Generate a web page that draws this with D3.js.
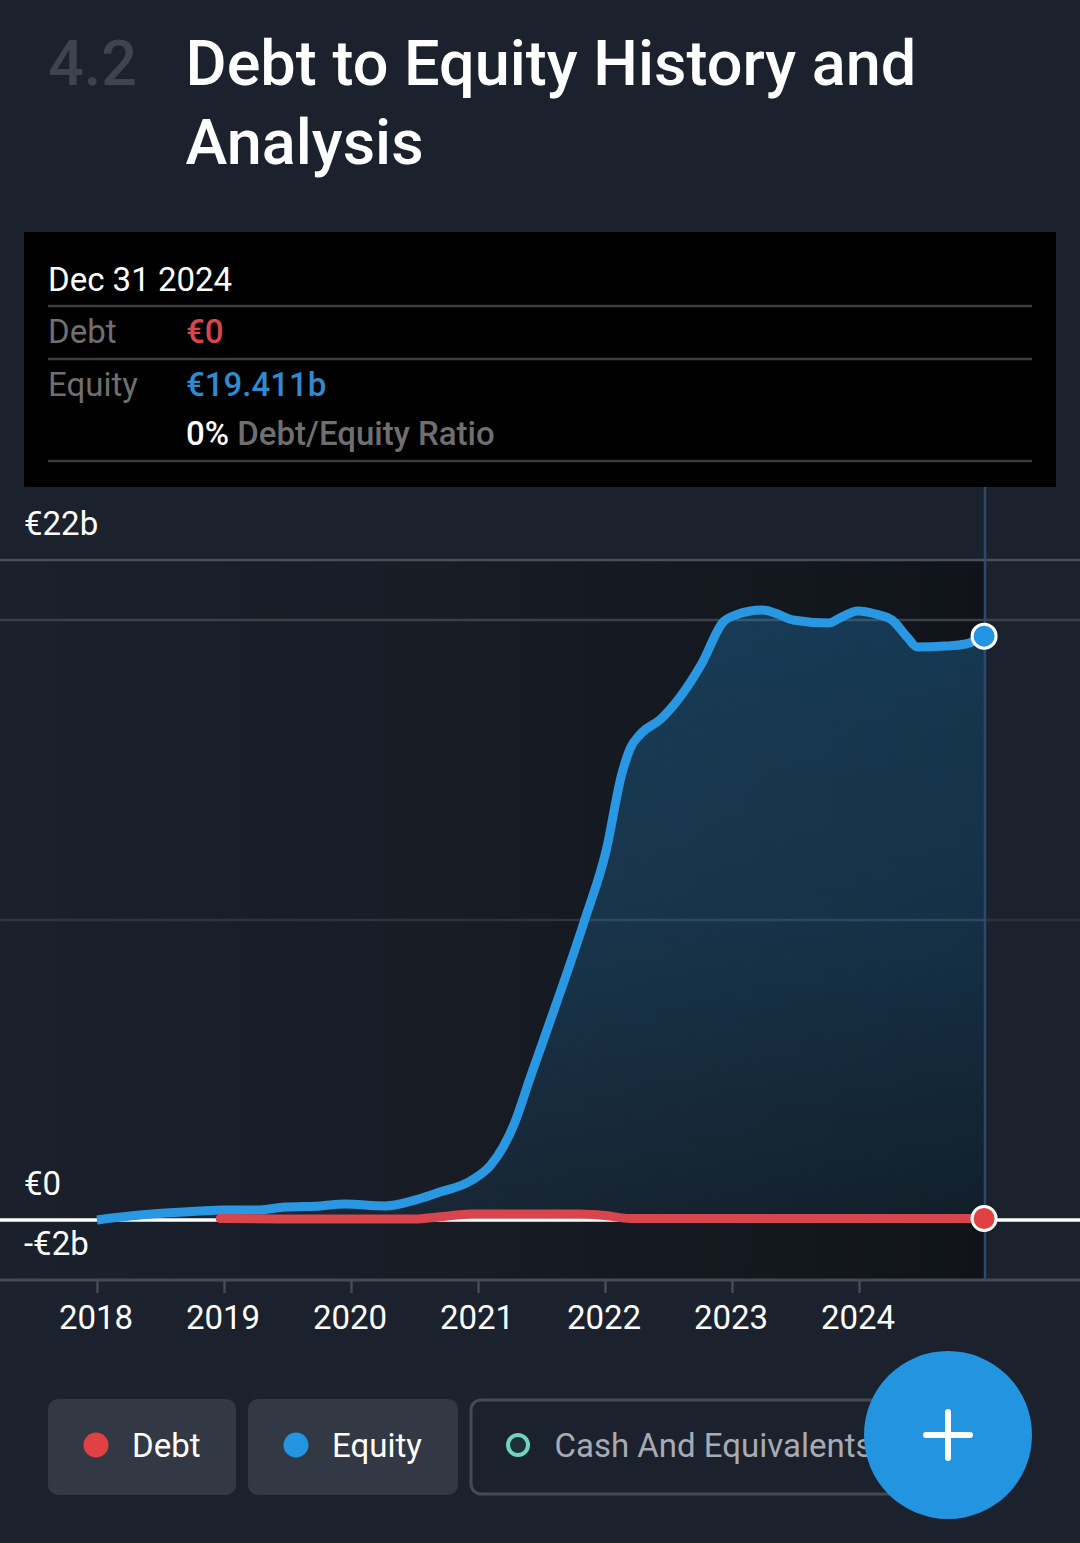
<!DOCTYPE html>
<html><head><meta charset="utf-8">
<script src="https://cdn.jsdelivr.net/npm/d3@7"></script>
<style>html,body{margin:0;padding:0;background:#1b222d}svg{display:block}text{font-family:Roboto,sans-serif}</style>
</head><body><svg id="c" width="1080" height="1543"></svg>
<script>
const equityYears=[2018,2018.26,2018.54,2018.81,2019,2019.25,2019.48,2019.76,2019.95,2020.27,2020.51,2020.7,2020.94,2021.1,2021.2,2021.28,2021.41,2021.53,2021.84,2022.01,2022.13,2022.2,2022.28,2022.44,2022.76,2022.93,2023.03,2023.24,2023.34,2023.48,2023.76,2023.85,2023.99,2024.13,2024.26,2024.38,2024.46,2024.68,2024.84,2024.985];
const equityValues=[-0.05,0.08,0.18,0.25,0.28,0.28,0.38,0.42,0.48,0.42,0.62,0.88,1.25,1.78,2.4,3.1,4.68,6.12,9.95,12.28,14.78,15.68,16.15,16.65,18.48,19.88,20.12,20.28,20.18,19.95,19.85,20.02,20.25,20.15,19.95,19.38,19.05,19.08,19.15,19.411];
const debtYears=[2018.97,2019.5,2020,2020.5,2020.7,2020.95,2021.5,2021.8,2022,2022.2,2023,2024,2024.985];
const debtValues=[0,-0.02,-0.02,-0.02,0.06,0.15,0.15,0.15,0.1,0,0,0,0];
const xTicks=[2018,2019,2020,2021,2022,2023,2024];
const yGrid=[{v:22,c:"#4a5059",w:2.5},{v:20,c:"#3c4149",w:2.5},{v:10,c:"#2e343e",w:2.5},{v:0,c:"#ffffff",w:3.5},{v:-2,c:"#454b55",w:3}];
const yLabels=[{t:"€22b",y:535},{t:"€0",y:1195},{t:"-€2b",y:1255}];
const tooltipRules=[306,359,461];
const legend=[{t:"Debt",x:48,w:188,dot:"#e04145",on:true},{t:"Equity",x:248,w:210,dot:"#2394e0",on:true},{t:"Cash And Equivalents",x:471,w:470,dot:"#6fd4c0",on:false}];

const svg=d3.select("#c");
const x=d3.scaleLinear().domain([2018,2024]).range([97,859]);
const y=d3.scaleLinear().domain([0,20]).range([1218.5,618.5]);
const gridOffset=1.5, xEnd=985;
const defs=svg.append("defs");
const g1=defs.append("linearGradient").attr("id","plotBg").attr("x1",0).attr("x2",1).attr("y1",0).attr("y2",0);
[[0,"#1a212c"],[0.45,"#171c25"],[0.8,"#13171e"],[1,"#10141a"]].forEach(s=>g1.append("stop").attr("offset",s[0]).attr("stop-color",s[1]));
const g2=defs.append("linearGradient").attr("id","area").attr("x1",0).attr("x2",0).attr("y1",0).attr("y2",1);
[[0,0.28],[0.5,0.22],[1,0.08]].forEach(s=>g2.append("stop").attr("offset",s[0]).attr("stop-color","#2394e0").attr("stop-opacity",s[1]));

svg.append("rect").attr("width",1080).attr("height",1543).attr("fill","#1b222d");
svg.append("rect").attr("x",0).attr("y",560).attr("width",xEnd).attr("height",720).attr("fill","url(#plotBg)");

// title
svg.append("text").attr("x",48).attr("y",85).attr("font-size",63).attr("font-weight",500).attr("fill","#3e444e").text("4.2");
svg.append("text").attr("x",185.5).attr("y",85).attr("font-size",63).attr("font-weight",500).attr("fill","#fff").text("Debt to Equity History and");
svg.append("text").attr("x",185.5).attr("y",164).attr("font-size",63).attr("font-weight",500).attr("fill","#fff").text("Analysis");

// grid
yGrid.filter(d=>d.v!==0).forEach(d=>svg.append("line").attr("x1",0).attr("x2",1080).attr("y1",y(d.v)+gridOffset).attr("y2",y(d.v)+gridOffset).attr("stroke",d.c).attr("stroke-width",d.w));
// area + vertical line
const ptsE=equityYears.map((t,i)=>[t,equityValues[i]]);
const ptsD=debtYears.map((t,i)=>[t,debtValues[i]]);
const curve=d3.curveMonotoneX;
svg.append("path").datum(ptsE).attr("fill","url(#area)")
 .attr("d",d3.area().x(d=>x(d[0])).y0(y(0)).y1(d=>y(d[1])).curve(curve));
svg.append("line").attr("x1",xEnd).attr("x2",xEnd).attr("y1",487).attr("y2",1280).attr("stroke","#2c4a6b").attr("stroke-width",2.5);
const zero=yGrid.find(d=>d.v===0);
svg.append("line").attr("x1",0).attr("x2",1080).attr("y1",y(0)+gridOffset).attr("y2",y(0)+gridOffset).attr("stroke",zero.c).attr("stroke-width",zero.w);

// axis
const ax=svg.append("g").attr("transform","translate(0,1281)").call(d3.axisBottom(x).tickValues(xTicks).tickFormat(d3.format("d")).tickSize(12).tickPadding(13));
ax.select(".domain").remove();
ax.selectAll("line").attr("stroke","#454b55").attr("stroke-width",2.5);
ax.selectAll("text").attr("fill","#fff").attr("font-size",33).attr("font-family","Roboto").attr("dx",-1.5);
yLabels.forEach(d=>svg.append("text").attr("x",24).attr("y",d.y).attr("font-size",33).attr("fill","#fff").text(d.t));

// lines
const line=d3.line().x(d=>x(d[0])).y(d=>y(d[1])).curve(curve);
svg.append("path").datum(ptsE).attr("fill","none").attr("stroke","#2a97e2").attr("stroke-width",9).attr("d",line);
svg.append("path").datum(ptsD).attr("fill","none").attr("stroke","#d9454c").attr("stroke-width",9).attr("stroke-linecap","round").attr("d",line);
const dot=(p,c)=>svg.append("circle").attr("cx",x(p[0])).attr("cy",y(p[1])).attr("r",12).attr("fill",c).attr("stroke","#fff").attr("stroke-width",3);
dot(ptsE[ptsE.length-1],"#2394e0");
dot(ptsD[ptsD.length-1],"#e04145");

// tooltip
svg.append("rect").attr("x",24).attr("y",232).attr("width",1032).attr("height",255).attr("fill","#000");
tooltipRules.forEach(v=>svg.append("line").attr("x1",48).attr("x2",1032).attr("y1",v).attr("y2",v).attr("stroke","#3d3d3d").attr("stroke-width",2.5));
const T=(t,xx,yy,c,w)=>svg.append("text").attr("x",xx).attr("y",yy).attr("font-size",33).attr("font-weight",w||400).attr("fill",c).text(t);
T("Dec 31 2024",48,291,"#fff");
T("Debt",48,343,"#6f6f6f");
T("€0",186,343,"#d9454c",500);
T("Equity",48,396,"#6f6f6f");
T("€19.411b",186,396,"#2f8ad0",500);
const r=svg.append("text").attr("x",186).attr("y",445).attr("font-size",33).attr("font-weight",500);
r.append("tspan").attr("fill","#fff").text("0% ");
r.append("tspan").attr("fill","#6f6f6f").text("Debt/Equity Ratio");

// legend
legend.forEach(d=>{
 svg.append("rect").attr("x",d.x).attr("y",d.on?1399:1400).attr("width",d.w).attr("height",d.on?96:94).attr("rx",10)
  .attr("fill",d.on?"#333944":"none").attr("stroke",d.on?"none":"#444a54").attr("stroke-width",3);
 svg.append("circle").attr("cx",d.x+(d.on?48:47)).attr("cy",1445).attr("r",d.on?12.5:10)
  .attr("fill",d.on?d.dot:"#1f3038").attr("stroke",d.on?"none":d.dot).attr("stroke-width",4);
 svg.append("text").attr("x",d.x+(d.on?84:83.5)).attr("y",1457).attr("font-size",33).attr("fill",d.on?"#fff":"#a8abb2").text(d.t);
});
// action button
svg.append("circle").attr("cx",948).attr("cy",1435).attr("r",84).attr("fill","#2394e0");
svg.append("line").attr("x1",926).attr("x2",970).attr("y1",1435).attr("y2",1435).attr("stroke","#fff").attr("stroke-width",6).attr("stroke-linecap","round");
svg.append("line").attr("x1",948).attr("x2",948).attr("y1",1412).attr("y2",1458).attr("stroke","#fff").attr("stroke-width",6).attr("stroke-linecap","round");
</script></body></html>
